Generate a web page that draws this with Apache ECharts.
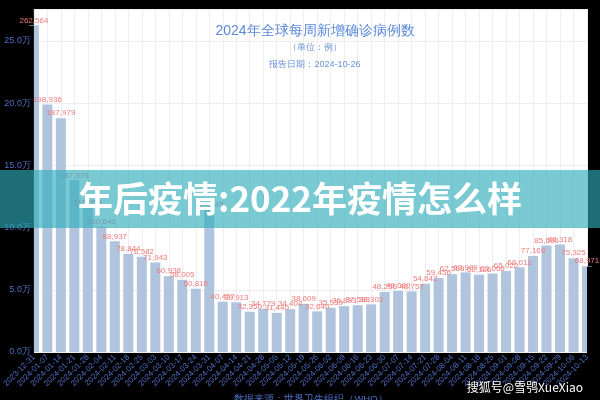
<!DOCTYPE html>
<html>
<head>
<meta charset="utf-8">
<style>
  html, body { margin: 0; padding: 0; background: #000; }
  #chart { width: 600px; height: 400px; }
</style>
<script src="https://cdn.jsdelivr.net/npm/echarts@6/dist/echarts.min.js"></script>
</head>
<body>
<div id="chart"></div>
<script>
const weeks = ['2023-12-31','2024-01-07','2024-01-14','2024-01-21','2024-01-28','2024-02-04','2024-02-11','2024-02-18','2024-02-25','2024-03-03','2024-03-10','2024-03-17','2024-03-24','2024-03-31','2024-04-07','2024-04-14','2024-04-21','2024-04-28','2024-05-05','2024-05-12','2024-05-19','2024-05-26','2024-06-02','2024-06-09','2024-06-16','2024-06-23','2024-06-30','2024-07-07','2024-07-14','2024-07-21','2024-07-28','2024-08-04','2024-08-11','2024-08-18','2024-08-25','2024-09-01','2024-09-08','2024-09-15','2024-09-22','2024-09-29','2024-10-06','2024-10-13'];
const newCases = [262564,198936,187979,137976,115858,100640,88937,78844,76582,71943,60938,58005,50816,114545,40457,39913,32350,34779,31440,34404,38609,32646,35539,36893,37593,38302,48256,49080,48757,54842,59456,62569,63989,62126,63066,65022,68012,77169,85690,86318,75325,68971];
const titleText = '2024年全球每周新增确诊病例数';
const unitText = '（单位：例）';
const dateText = '报告日期：2024-10-26';
const sourceText = '数据来源：世界卫生组织（WHO）';
const bannerText = '年后疫情:2022年疫情怎么样';
const watermarkText = '搜狐号@雪鸮XueXiao';

const yMax = Math.max.apply(null, newCases) * 1.05;
const chart = echarts.init(document.getElementById('chart'), null, {renderer: 'canvas'});
const axisColor = '#4e6fc6';
const yLabel = { fontSize: 9, color: axisColor, margin: 3, showMaxLabel: false,
  formatter: function (v) { return (v / 10000).toFixed(1) + '万'; } };
chart.setOption({
  backgroundColor: '#000',
  textStyle: { fontFamily: 'sans-serif' },
  title: [
    { text: titleText, left: 310, top: 19, textAlign: 'center', textStyle: { color: '#5b8ad8', fontSize: 14, fontWeight: 'normal' } },
    { text: unitText, left: 310, top: 38, textAlign: 'center', textStyle: { color: '#6a93d8', fontSize: 9, fontWeight: 'normal' } },
    { text: dateText, left: 310, top: 55, textAlign: 'center', textStyle: { color: '#6a93d8', fontSize: 9, fontWeight: 'normal' } },
    { text: sourceText, left: 306, top: 389, textAlign: 'center', textStyle: { color: axisColor, fontSize: 9.5, fontWeight: 'normal' } }
  ],
  grid: { left: 33, right: 13, top: 9, bottom: 48, show: true, backgroundColor: '#fff', borderWidth: 0 },
  xAxis: {
    type: 'category',
    data: weeks,
    boundaryGap: false,
    axisLine: { show: false },
    axisTick: { show: false },
    axisLabel: { rotate: 45, fontSize: 8, color: axisColor, interval: 0, margin: 4 },
    splitLine: { show: true, lineStyle: { color: '#eeeeee' } }
  },
  yAxis: [{
    type: 'value', min: 0, max: yMax, interval: 50000,
    axisLine: { show: false }, axisTick: { show: false },
    axisLabel: { show: false },
    splitLine: { show: true, lineStyle: { color: '#eeeeee' } }
  }, {
    type: 'value', position: 'left', min: 0, max: yMax, interval: 50000, z: 10,
    axisLine: { show: false }, axisTick: { show: false },
    axisLabel: yLabel,
    splitLine: { show: false }
  }],
  series: [{
    type: 'bar',
    data: newCases,
    barWidth: 10,
    itemStyle: { color: '#b0c4de' },
    label: {
      show: true, position: 'top', distance: 1, fontSize: 8, color: '#ee7b7b',
      formatter: function (p) { return p.value.toLocaleString('en-US'); }
    }
  }]
});

// Mask the halves of the edge bars that fall outside the grid (the reference clips them)
const gridBottom = chart.convertToPixel({ yAxisIndex: 0 }, 0);
const firstTop = chart.convertToPixel({ yAxisIndex: 0 }, newCases[0]);
const lastTop = chart.convertToPixel({ yAxisIndex: 0 }, newCases[newCases.length - 1]);
const leftX = chart.convertToPixel({ xAxisIndex: 0 }, weeks[0]);
const rightX = chart.convertToPixel({ xAxisIndex: 0 }, weeks[weeks.length - 1]);

chart.setOption({
  graphic: [
    { type: 'rect', z: 5, shape: { x: leftX - 8, y: firstTop + 0.5, width: 8, height: gridBottom - firstTop + 1 }, style: { fill: '#000' } },
    { type: 'rect', z: 5, shape: { x: rightX, y: lastTop + 0.5, width: 8, height: gridBottom - lastTop + 1 }, style: { fill: '#000' } },
    { type: 'rect', z: 100, shape: { x: 0, y: 170, width: 600, height: 58 }, style: { fill: 'rgba(47,172,187,0.64)' } },
    { type: 'text', z: 101, x: 300, y: 199, style: { text: bannerText, fill: '#fff', font: 'bold 35px "Noto Sans CJK SC", sans-serif', textAlign: 'center', textVerticalAlign: 'middle', shadowColor: 'rgba(0,0,0,0.3)', shadowBlur: 3 } },
    { type: 'text', z: 101, x: 583, y: 387, style: { text: watermarkText, fill: '#fff', font: '12px "Noto Sans CJK SC", sans-serif', textAlign: 'right', textVerticalAlign: 'middle', shadowColor: 'rgba(0,0,0,0.5)', shadowBlur: 2 } }
  ]
});
</script>
</body>
</html>
